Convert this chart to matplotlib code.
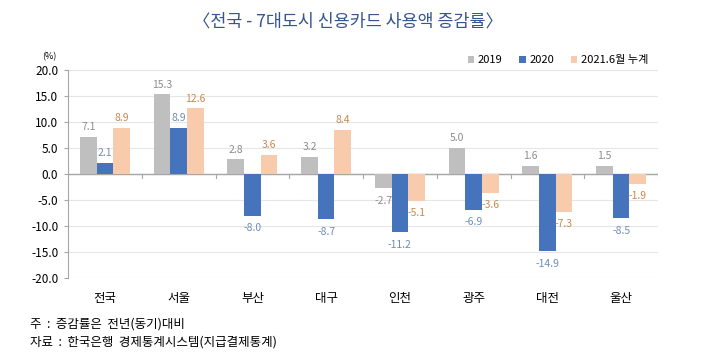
import numpy as np
import matplotlib
matplotlib.use("Agg")
import matplotlib.pyplot as plt

plt.rcParams['font.family'] = ['Noto Sans CJK KR', 'DejaVu Sans']

cities = ['전국', '서울', '부산', '대구', '인천', '광주', '대전', '울산']
rate_2019 = [7.1, 15.3, 2.8, 3.2, -2.7, 5.0, 1.6, 1.5]
rate_2020 = [2.1, 8.9, -8.0, -8.7, -11.2, -6.9, -14.9, -8.5]
rate_2021 = [8.9, 12.6, 3.6, 8.4, -5.1, -3.6, -7.3, -1.9]
series_names = ['2019', '2020', '2021.6월 누계']

bar_colors = ['#BFBFBF', '#4674BC', '#F8CBAD']
label_colors = ['#8C8C8C', '#6E8DB5', '#C88A4E']

fig = plt.figure(figsize=(7.19, 3.63), dpi=100)
ax = fig.add_axes([68 / 719, 1 - 278 / 363, 590 / 719, 208 / 363])

x = np.arange(len(cities))
w = 0.225
for i, vals in enumerate([rate_2019, rate_2020, rate_2021]):
    pos = x + (i - 1) * w
    ax.bar(pos, vals, width=w, color=bar_colors[i], label=series_names[i], zorder=2)
    for p, v in zip(pos, vals):
        off = 1.9 if v >= 0 else -2.4
        ax.text(p, v + off, f'{v:.1f}', ha='center', va='center',
                fontsize=7.5, color=label_colors[i], zorder=3)

ax.set_xlim(-0.5, len(cities) - 0.5)
ax.set_ylim(-20, 20)
ax.set_yticks(np.arange(-20, 20.1, 5))
ax.set_yticklabels([f'{t:.1f}' for t in np.arange(-20, 20.1, 5)], fontsize=8.5)
ax.grid(axis='y', color='#E6E6E6', linewidth=0.8, zorder=0)
ax.set_axisbelow(True)

for s in ['top', 'right', 'bottom']:
    ax.spines[s].set_visible(False)
ax.spines['left'].set_color('#A6A6A6')
ax.tick_params(axis='y', length=3, color='#A6A6A6', pad=4)
ax.axhline(0, color='#A6A6A6', linewidth=1, zorder=1)

# category separators on the zero line
for b in np.arange(0.5, len(cities) - 0.5, 1):
    ax.plot([b, b], [0, -0.8], color='#A6A6A6', linewidth=0.8, zorder=1)
ax.plot([len(cities) - 0.5] * 2, [0, -0.8], color='#A6A6A6', linewidth=0.8)

ax.set_xticks(x)
ax.set_xticklabels(cities, fontsize=9)
ax.tick_params(axis='x', length=0, pad=10)

fig.text(348 / 719, 1 - 22 / 363, '〈전국 - 7대도시 신용카드 사용액 증감률〉',
         ha='center', va='center', fontsize=12.5, color='#34558F')
fig.text(49 / 719, 1 - 57 / 363, '(%)', ha='center', va='center', fontsize=6.5)

ax.legend(loc='upper right', bbox_to_anchor=(1.0, 1.12), ncol=3, frameon=False,
          fontsize=8, handlelength=0.6, handleheight=0.6, columnspacing=1.5,
          handletextpad=0.3)

fig.text(30 / 719, 1 - 324 / 363, '주  :  증감률은  전년(동기)대비',
         ha='left', va='center', fontsize=9)
fig.text(30 / 719, 1 - 342 / 363, '자료  :  한국은행  경제통계시스템(지급결제통계)',
         ha='left', va='center', fontsize=9)

fig.savefig('out.png', dpi=100)
